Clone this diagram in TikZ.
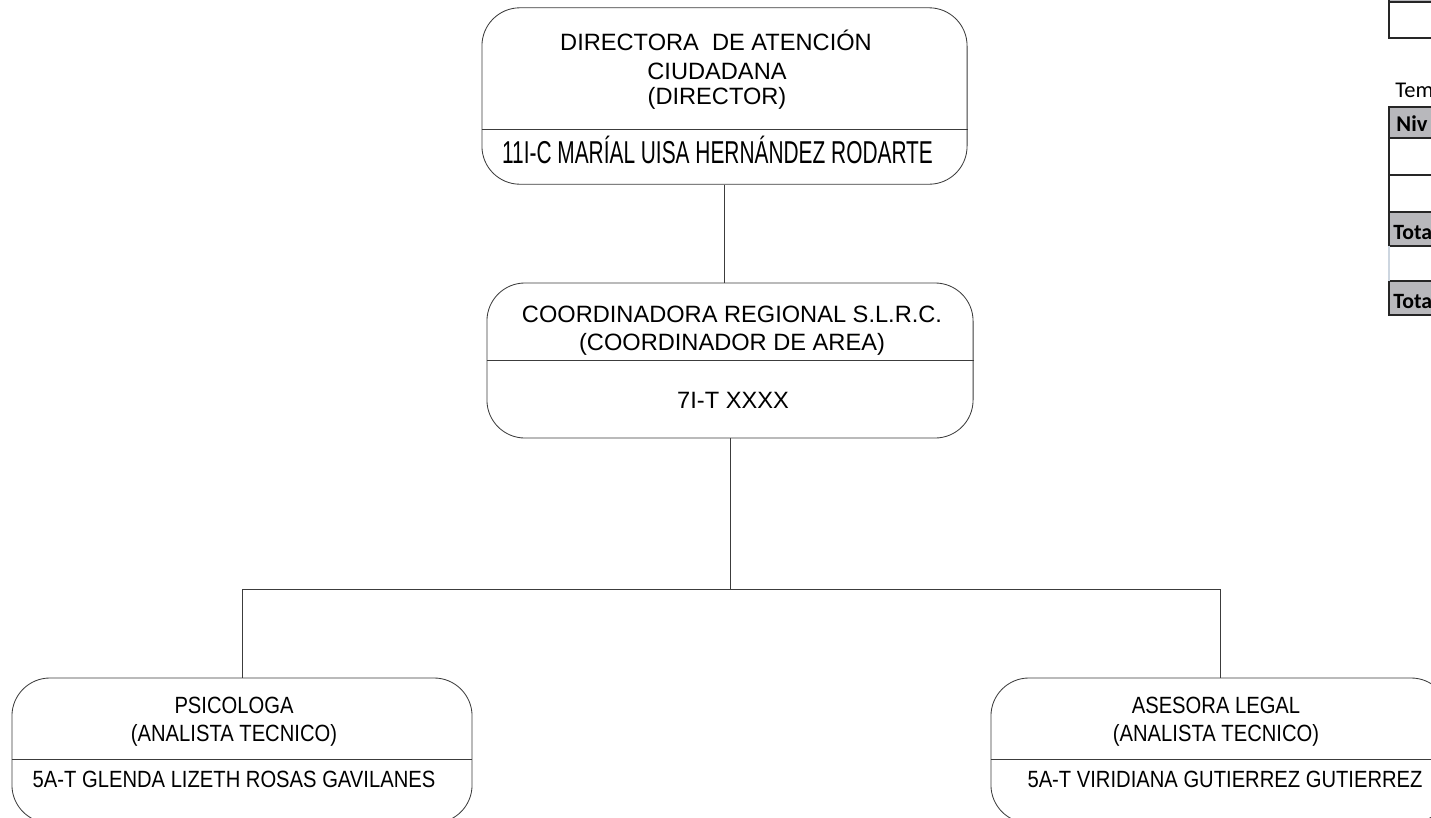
\documentclass[tikz,border=0pt]{standalone}
\usepackage{fontspec}
\setmainfont{Liberation Sans}
\newfontfamily\namefont[FakeStretch=0.66]{Liberation Sans}
\newfontfamily\slimfont[FakeStretch=0.86]{Liberation Sans}
\newfontfamily\tablefont{Carlito}
\usetikzlibrary{positioning}
\definecolor{cellgray}{RGB}{184,184,188}
\definecolor{edgegray}{RGB}{60,60,60}
\definecolor{faintline}{RGB}{205,214,224}

\begin{document}
\begin{tikzpicture}[x=0.025cm, y=-0.025cm, line width=0.6pt,
post/.style={draw=edgegray, rounded corners=0.95cm, inner sep=0pt},
txt/.style={anchor=base, inner sep=0pt, font=\fontsize{16.8}{19}\selectfont},
lowtxt/.style={anchor=base, inner sep=0pt, font=\slimfont\fontsize{16.7}{19}\selectfont},
link/.style={draw=edgegray, line width=0.5pt},
cell/.style={draw=black!85, line width=1.4pt, line cap=rect},
celltxt/.style={anchor=base west, inner sep=0pt, font=\tablefont\fontsize{16}{19}\selectfont}]

\useasboundingbox (0,0) rectangle (1431,817);
\clip (0,0) rectangle (1431,817);

% boxes
\node [post, minimum width=12.125cm, minimum height=4.41cm] (dir) at (724.5,96) {};
\draw [edgegray] (dir.west |- 0,129) -- (dir.east |- 0,129);
\node [txt] (dirA) at (716,50) {DIRECTORA\ \ DE ATENCIÓN};
\node [txt] (dirB) at (717,79) {CIUDADANA};
\node [txt] (dirC) at (717,104) {(DIRECTOR)};
\node [txt, font=\namefont\fontsize{22.5}{24}\selectfont] (dirN) at (717.5,163) {11I-C MARÍAL UISA HERNÁNDEZ RODARTE};

\node [post, minimum width=12.15cm, minimum height=3.875cm] (coord) at (730,360.5) {};
\draw [edgegray] (coord.west |- 0,360) -- (coord.east |- 0,360);
\node [txt] (coordA) at (732,322) {COORDINADORA REGIONAL S.L.R.C.};
\node [txt] (coordB) at (732,350) {(COORDINADOR DE AREA)};
\node [txt] (coordN) at (733,408) {7I-T XXXX};

\node [post, minimum width=11.5cm, minimum height=3.625cm] (psic) at (242,750.5) {};
\draw [edgegray] (psic.west |- 0,759) -- (psic.east |- 0,759);
\node [lowtxt] (psicA) at (234,713) {PSICOLOGA};
\node [lowtxt] (psicB) at (234,741) {(ANALISTA TECNICO)};
\node [lowtxt] (psicN) at (234,787) {5A-T GLENDA LIZETH ROSAS GAVILANES};

\node [post, minimum width=11.45cm, minimum height=3.625cm] (ases) at (1220,750.5) {};
\draw [edgegray] (ases.west |- 0,759) -- (ases.east |- 0,759);
\node [lowtxt] (asesA) at (1216,713) {ASESORA LEGAL};
\node [lowtxt] (asesB) at (1216,741) {(ANALISTA TECNICO)};
\node [lowtxt] (asesN) at (1225,787) {5A-T VIRIDIANA GUTIERREZ GUTIERREZ};

% connectors
\coordinate (bus) at (730,589);
\draw [link] (dir.south) -- (dir.south |- coord.north);
\draw [link] (coord.south) -- (bus);
\draw [link] (psic.north) |- (bus) -| (ases.north);

% table cut off at the right edge
\fill [cellgray] (1389,-5) rectangle (1440,2);
\draw [cell] (1389,-5) -- (1389,38) -- (1440,38);
\draw [cell] (1389,2) -- (1440,2);
\node [celltxt] (tem) at (1395,97) {Tem};
\fill [cellgray] (1389,107) rectangle (1440,138);
\fill [cellgray] (1389,212) rectangle (1440,246);
\fill [cellgray] (1389,281) rectangle (1440,315);
\foreach \y in {107,138,175,212,246,281,315}
  \draw [cell] (1389,\y) -- (1440,\y);
\draw [cell] (1389,107) -- (1389,246);
\draw [cell] (1389,281) -- (1389,315);
\draw [faintline, line width=0.8pt] (1389,246) -- (1389,281);
\node [celltxt, font=\tablefont\bfseries\fontsize{16}{19}\selectfont] (niv) at (1396,131) {Niv};
\node [celltxt, font=\tablefont\bfseries\fontsize{15.5}{19}\selectfont] (totA) at (1393,239) {Tota};
\node [celltxt, font=\tablefont\bfseries\fontsize{15.5}{19}\selectfont] (totB) at (1393,308) {Tota};
\end{tikzpicture}
\end{document}
